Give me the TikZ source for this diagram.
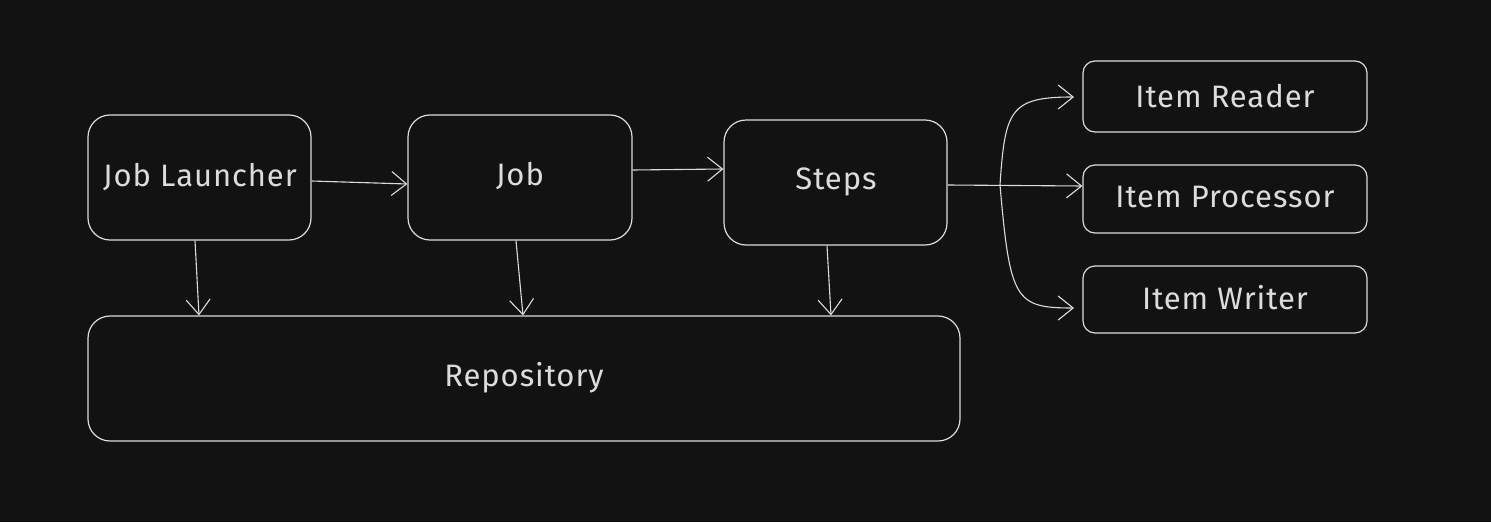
\documentclass[tikz,border=0pt]{standalone}
\usepackage{fontspec}
\setmainfont{Fira Sans}
\usetikzlibrary{arrows.meta}
\definecolor{bg}{HTML}{121212}
\definecolor{ink}{HTML}{DCDCDC}
\begin{document}
\begin{tikzpicture}[x=1pt,y=-1pt,
  lbl/.style={text=ink, font=\fontsize{31}{35}\selectfont\addfontfeatures{LetterSpace=3}},
  box/.style={draw=ink, line width=1.2pt, rounded corners=22pt},
  sbox/.style={draw=ink, line width=1.2pt, rounded corners=12pt},
  conn/.style={draw=ink, line width=1.1pt, -{Straight Barb[length=15pt,width=24pt,line width=1.1pt]}}]
\fill[bg] (0,0) rectangle (1491,522);
\useasboundingbox (0,0) rectangle (1491,522);
\node[box, minimum width=223pt, minimum height=125pt] (jl) at (199.5,177.5) {};
\node[lbl] (jlt) at (200,177) {Job Launcher};
\node[box, minimum width=224pt, minimum height=125pt] (job) at (520,177.5) {};
\node[lbl] (jobt) at (520,176) {Job};
\node[box, minimum width=223pt, minimum height=125pt] (st) at (835.5,182.5) {};
\node[lbl] (stt) at (836,182) {Steps};
\node[box, minimum width=872pt, minimum height=125pt] (repo) at (524,378.5) {};
\node[lbl] (repot) at (524,378) {Repository};
\node[sbox, minimum width=284pt, minimum height=71pt] (rd) at (1225,96.5) {};
\node[lbl] (rdt) at (1225,96) {Item Reader};
\node[sbox, minimum width=284pt, minimum height=68pt] (pr) at (1225,199) {};
\node[lbl] (prt) at (1225,197) {Item Processor};
\node[sbox, minimum width=284pt, minimum height=67pt] (wr) at (1225,299.5) {};
\node[lbl] (wrt) at (1225,298) {Item Writer};
\coordinate (fork) at (1000,185);
\draw[conn] (jl.east |- 0,181) -- (job.west |- 0,184);
\draw[conn] (job.east |- 0,170) -- (st.west |- 0,169);
\draw[conn] (st.east |- 0,185) -- (pr.west |- 0,186);
\draw[conn] (fork) .. controls (1005,110) and (1010,97) .. (1074,97);
\draw[conn] (fork) .. controls (1010,300) and (1015,308) .. (1074,308);
\draw[conn] (jl.south -| 195,0) -- (repo.north -| 199,0);
\draw[conn] (job.south -| 516,0) -- (repo.north -| 523,0);
\draw[conn] (st.south -| 827,0) -- (repo.north -| 831,0);
\end{tikzpicture}
\end{document}
